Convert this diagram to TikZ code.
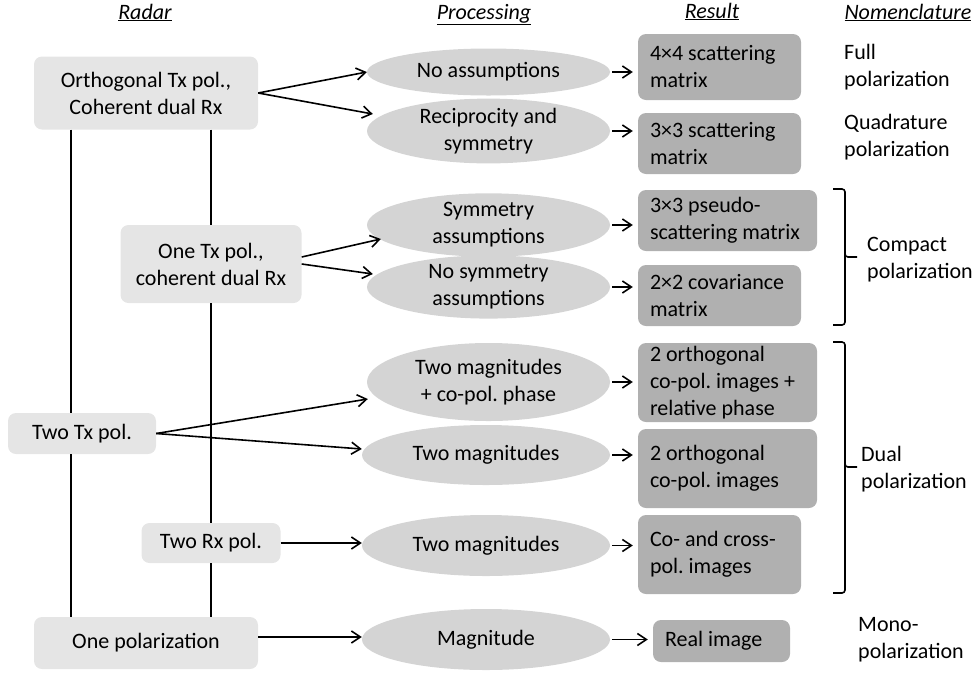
\documentclass[tikz,border=0pt]{standalone}
\usepackage{fontspec}
\setmainfont{Carlito}
\usetikzlibrary{arrows.meta, positioning, shapes.geometric}
\frenchspacing

\begin{document}
\begin{tikzpicture}[
  x=1pt, y=-1pt,
  font=\fontsize{22}{27}\selectfont,
  radar/.style={rectangle, rounded corners=8pt, fill=black!10, align=center, inner sep=0pt},
  proc/.style={ellipse, fill=black!17, align=center, inner sep=0pt, minimum width=243pt},
  res/.style={rectangle, rounded corners=8pt, fill=black!31, align=flush left,
    inner xsep=12pt, inner ysep=0pt},
  head/.style={font=\fontsize{22}{27}\selectfont\itshape, anchor=base},
  nom/.style={align=left, anchor=west, inner sep=0pt},
  arr/.style={-{Straight Barb[length=9pt, width=12pt]}, line width=1.6pt},
  link/.style={line width=1.6pt}
]
\useasboundingbox (0,0) rectangle (979,673);

\node[head] (hradar) at (145,19) {\underline{Radar}};
\node[head] (hproc) at (484,19) {\underline{Processing}};
\node[head] (hres) at (712,18) {\underline{Result}};
\node[head] (hnom) at (908,19) {\underline{Nomenclature}};

\node[radar, minimum width=224pt, minimum height=73pt] (orth) at (146,93) {Orthogonal Tx pol.,\\Coherent dual Rx};
\node[radar, minimum width=181pt, minimum height=78pt] (onetx) at (211,264) {One Tx pol.,\\coherent dual Rx};
\node[radar, minimum width=148pt, minimum height=41pt] (twotx) at (82,433.5) {Two Tx pol.};
\node[radar, minimum width=139pt, minimum height=40pt] (tworx) at (211,543) {Two Rx pol.};
\node[radar, minimum width=224pt, minimum height=52pt] (onepol) at (146,643) {One polarization};

\node[proc, minimum height=47pt] (noass) at (488.5,72) {No assumptions};
\node[proc, minimum height=59pt] (recip) at (488.5,131) {Reciprocity and\\symmetry};
\node[proc, minimum height=58pt] (sym) at (488.5,225) {Symmetry\\assumptions};
\node[proc, minimum height=58pt] (nosym) at (488.5,287) {No symmetry\\assumptions};
\node[proc, minimum height=78pt] (magph) at (488.5,382) {Two magnitudes\\+ co-pol. phase};
\node[proc, minimum width=248pt, minimum height=60pt] (twomag) at (486,455) {Two magnitudes};
\node[proc, minimum width=248pt, minimum height=61pt] (rxmag) at (486,545.5) {Two magnitudes};
\node[proc, minimum width=248pt, minimum height=61pt] (mag) at (486,639.5) {Magnitude};

\node[res, text width=139pt, minimum height=66pt] (r44) at (719.5,67) {4×4 scattering\\matrix};
\node[res, text width=139pt, minimum height=61pt] (r33) at (719.5,143.5) {3×3 scattering\\matrix};
\node[res, text width=155pt, minimum height=61pt] (rpseudo) at (727.5,220.5) {3×3 pseudo-\\scattering matrix};
\node[res, text width=139pt, minimum height=61pt] (rcov) at (719.5,295.5) {2×2 covariance\\matrix};
\node[res, text width=155pt, minimum height=79pt] (rphase) at (727.5,382.5) {2 orthogonal\\co-pol. images +\\relative phase};
\node[res, text width=155pt, minimum height=79pt] (rcopol) at (727.5,468.5) {2 orthogonal\\co-pol. images};
\node[res, text width=139pt, minimum height=79pt] (rcross) at (719.5,554.5) {Co- and cross-\\pol. images};
\node[res, text width=113pt, minimum height=42pt] (rreal) at (721.5,641) {Real image};

\node[nom] (full) at (844,67.5) {Full\\polarization};
\node[nom] (quad) at (844,137.5) {Quadrature\\polarization};
\node[nom] (compact) at (867,260) {Compact\\polarization};
\node[nom] (dual) at (861,469.5) {Dual\\polarization};
\node[nom] (mono) at (858,639.5) {Mono-\\polarization};

\coordinate (lx) at (71,0);
\draw[link] (lx |- orth.south) -- (lx |- twotx.north);
\draw[link] (lx |- twotx.south) -- (lx |- onepol.north);
\draw[link] (onetx.north |- orth.south) -- (onetx.north);
\draw[link] (onetx.south) -- (tworx.north);
\draw[link] (tworx.south) -- (tworx.south |- onepol.north);

\draw[arr] (orth.east) -- (noass.west);
\draw[arr] (orth.east) -- ([xshift=6pt, yshift=17pt]recip.west);
\draw[arr] ([yshift=7pt]onetx.east) -- ([xshift=14pt, yshift=-14pt]sym.west);
\draw[arr] (onetx.east) -- ([xshift=6pt, yshift=13pt]nosym.west);
\draw[arr] (twotx.east) -- ([xshift=1pt, yshift=-17pt]magph.west);
\draw[arr] (twotx.east) -- ([yshift=6pt]twomag.west);
\draw[arr] (tworx.east) -- (tworx.east -| rxmag.west);
\draw[arr] ([yshift=6pt]onepol.east) -- ([yshift=6pt]onepol.east -| mag.west);

\draw[arr, shorten <=2pt, shorten >=5pt] (noass.east) -- (noass.east -| r44.west);
\draw[arr, shorten <=2pt, shorten >=5pt] (recip.east) -- (recip.east -| r33.west);
\draw[arr, shorten <=2pt, shorten >=5pt] (sym.east) -- (sym.east -| rpseudo.west);
\draw[arr, shorten <=2pt, shorten >=5pt] (nosym.east) -- (nosym.east -| rcov.west);
\draw[arr, shorten <=2pt, shorten >=5pt] (magph.east) -- (magph.east -| rphase.west);
\draw[arr, shorten <=2pt, shorten >=5pt] (twomag.east) -- (twomag.east -| rcopol.west);
\draw[arr, shorten <=2pt, shorten >=5pt] (rxmag.east) -- (rxmag.east -| rcross.west);
\draw[arr, shorten <=2pt, shorten >=5pt] (mag.east) -- (mag.east -| rreal.west);

\draw[link, rounded corners=3pt] (833,189) -| (845,257) -- (857,257);
\draw[link, rounded corners=3pt] (845,250) |- (833,325);
\draw[link, rounded corners=3pt] (833,342) -| (845,467) -- (857,467);
\draw[link, rounded corners=3pt] (845,460) |- (833,593);
\end{tikzpicture}
\end{document}
